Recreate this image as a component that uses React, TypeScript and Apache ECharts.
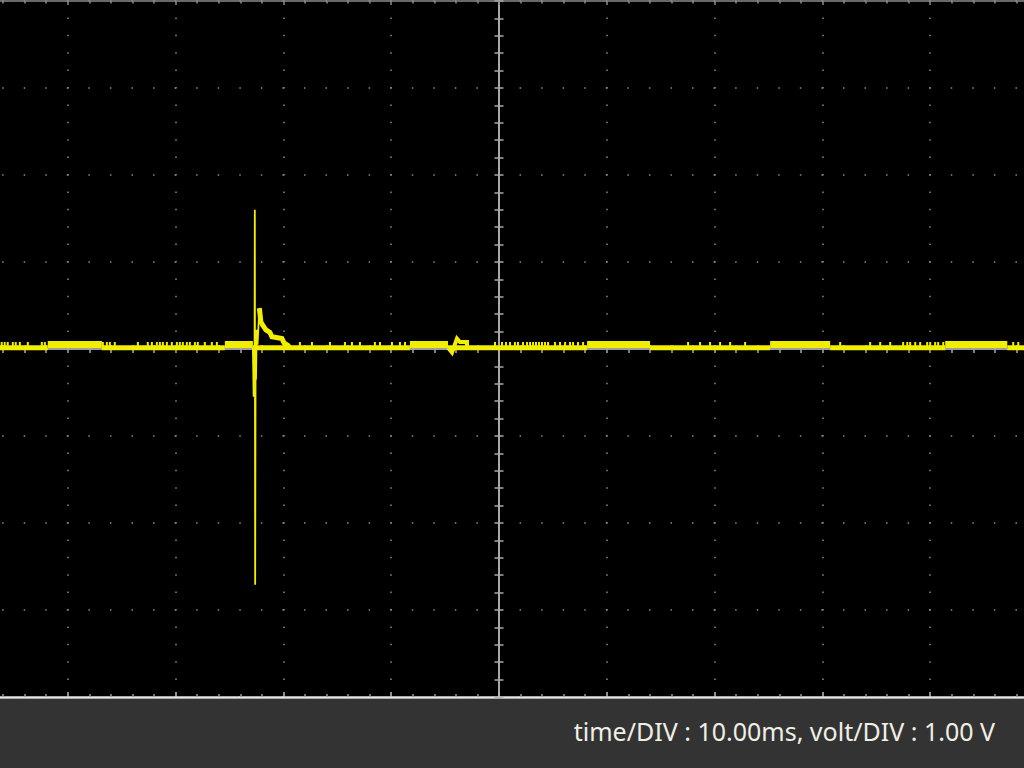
import React, { useEffect, useRef } from "react";
import * as echarts from "echarts";

// Axis extents: 10 divisions of 10 ms, 8 divisions of 1 V
const timeMin = -50;
const timeMax = 50;
const timeStep = 10;
const voltMin = -4;
const voltMax = 4;
const voltStep = 1;

// Trace levels (V)
const restLevel = 0.015;
const bandLevel = 0.052;
const glitchPeak = 0.08;

// Dense-noise bands (ms ranges) where the trace sits slightly raised
const bandStarts = [-41.86, -25.43, -8.26, 8.17, 25.15, 41.39];
const bandEnds = [-36.84, -22.83, -4.73, 14.01, 30.72, 47.15];

// Short upward glitches on the resting trace (ms)
const glitchTimes = [
  -46.13, -45.85, -45.57, -45.1, -44.83, -44.45, -43.71, -42.41, -42.13,
  -36.75, -36.38, -36.1, -35.64, -33.5, -32.58, -32.2, -31.74, -31.46, -31.18,
  -30.81, -30.35, -29.88, -29.61, -29.33, -28.96, -28.68, -28.21, -27.94,
  -27.29, -26.64, -26.17,
  -18.47, -17.35, -15.68, -14.29, -13.64, -12.9, -11.51, -11.04, -9.93, -9.19, -8.72,
  -0.37, 0.28, 0.65, 1.02, 1.48, 1.76, 2.23, 2.6, 2.88, 3.16, 3.43, 3.71, 3.99,
  4.27, 4.55, 5.2, 5.66, 6.13, 6.59, 6.87, 7.33, 7.8,
  17.54, 18.65, 19.58, 20.51, 21.44, 22.83,
  31.65, 34.43, 35.36, 36.29, 37.49, 37.87, 38.14, 38.61, 39.07, 39.72, 40.0,
  40.46, 40.74, 41.21, 47.7, 48.17,
];

// Main transient: sharp spike and ringing
const spikeTimes = [-22.83, -22.76, -22.72, -22.68, -22.65, -22.62, -22.58, -22.54, -22.48, -22.4, -22.23];
const spikeVolts = [0.015, -0.55, -0.1, -0.45, 1.6, -2.71, -0.12, -0.35, 0.22, 0.05, 0.47];

// Main transient: decay back to rest
const decayTimes = [-22.23, -22.09, -21.9, -21.62, -21.25, -21.07, -20.14, -19.95, -19.58, -19.4];
const decayVolts = [0.47, 0.31, 0.27, 0.22, 0.19, 0.14, 0.12, 0.07, 0.04, 0.015];

// Small secondary disturbance
const bumpTimes = [-4.73, -4.36, -3.9, -3.62, -2.97, -2.97];
const bumpVolts = [0.015, -0.04, 0.12, 0.08, 0.08, 0.015];

const footerText = "time/DIV : 10.00ms, volt/DIV : 1.00 V";

const traceColor = "#f2ee00";

// The plot is wider than the window: it starts 40 px left of the page edge
const shiftX = 40;
const plotWidth = 1078;

export default function App() {
  const ref = useRef<HTMLDivElement>(null);

  useEffect(() => {
    if (!ref.current) return;
    const chart = echarts.init(ref.current, undefined, { renderer: "svg" });

    const gap: any = "-";
    const restData: any[] = [];
    let cursor = timeMin;
    bandStarts.forEach((s, i) => {
      restData.push([cursor, restLevel], [s, restLevel], [s, gap]);
      cursor = bandEnds[i];
    });
    restData.push([cursor, restLevel], [timeMax, restLevel]);

    const bandData: any[] = [];
    bandStarts.forEach((s, i) => {
      bandData.push([s, bandLevel], [bandEnds[i], bandLevel], [bandEnds[i], gap]);
    });

    const glitchData: any[] = [];
    glitchTimes.forEach((t) => {
      glitchData.push([t, restLevel], [t, glitchPeak], [t, gap]);
    });

    const spikeData = spikeTimes.map((t, i) => [t, spikeVolts[i]]);
    const decayData = decayTimes.map((t, i) => [t, decayVolts[i]]);
    const bumpData = bumpTimes.map((t, i) => [t, bumpVolts[i]]);

    const hidden = { show: false };
    const baseX = {
      type: "value",
      min: timeMin,
      max: timeMax,
      interval: timeStep,
      axisLabel: hidden,
      splitLine: hidden,
    };
    const baseY = {
      type: "value",
      min: voltMin,
      max: voltMax,
      interval: voltStep,
      axisLabel: hidden,
      splitLine: hidden,
    };

    const lineSeries = (data: any[], width: number, z: number) => ({
      type: "line",
      data,
      xAxisIndex: 0,
      yAxisIndex: 0,
      showSymbol: false,
      symbol: "none",
      connectNulls: false,
      z,
      lineStyle: { color: traceColor, width, cap: "butt", join: "miter" },
      emphasis: { disabled: true },
      silent: true,
    });

    chart.setOption({
      animation: false,
      backgroundColor: "#000000",
      grid: { left: 0, right: 0, top: 1, bottom: 71, containLabel: false, outerBoundsMode: "none" },
      xAxis: [
        {
          ...baseX,
          position: "bottom",
          axisLine: { show: true, onZero: false, lineStyle: { color: "#e4e4e4", width: 2.5 } },
          axisTick: { show: true, inside: true, length: 5, lineStyle: { color: "#bdbdbd", width: 1.5 } },
          minorTick: { show: true, splitNumber: 5, length: 3, lineStyle: { color: "#9a9a9a", width: 1.5 } },
          splitLine: {
            show: true,
            lineStyle: { color: "#8a8a8a", width: 1.5, type: [1.5, 15.9], dashOffset: 0.75 },
          },
        },
        {
          ...baseX,
          position: "top",
          axisLine: { show: true, onZero: false, lineStyle: { color: "#8c8c8c", width: 1.5 } },
          axisTick: { show: true, inside: true, length: 4, lineStyle: { color: "#8c8c8c", width: 1.5 } },
          minorTick: { show: true, splitNumber: 5, length: 2.5, lineStyle: { color: "#8c8c8c", width: 1.5 } },
        },
        {
          ...baseX,
          position: "bottom",
          axisLine: { show: true, onZero: true, onZeroAxisIndex: 0, lineStyle: { color: "#a8a8a8", width: 1.5 } },
          axisTick: { show: true, inside: true, length: 4, lineStyle: { color: "#a8a8a8", width: 1.5 } },
          minorTick: { show: true, splitNumber: 5, length: 4, lineStyle: { color: "#a8a8a8", width: 1.5 } },
        },
        {
          ...baseX,
          position: "top",
          axisLine: { show: true, onZero: true, onZeroAxisIndex: 0, lineStyle: { color: "#a8a8a8", width: 1.5 } },
          axisTick: { show: true, inside: true, length: 4, lineStyle: { color: "#a8a8a8", width: 1.5 } },
          minorTick: { show: true, splitNumber: 5, length: 4, lineStyle: { color: "#a8a8a8", width: 1.5 } },
        },
      ],
      yAxis: [
        {
          ...baseY,
          position: "left",
          axisLine: { show: false, onZero: false },
          axisTick: hidden,
          splitLine: {
            show: true,
            lineStyle: { color: "#8a8a8a", width: 1.5, type: [1.5, 20.06], dashOffset: 0.75 },
          },
        },
        {
          ...baseY,
          position: "left",
          axisLine: { show: true, onZero: true, onZeroAxisIndex: 0, lineStyle: { color: "#a8a8a8", width: 2 } },
          axisTick: { show: true, inside: true, length: 4.5, lineStyle: { color: "#a8a8a8", width: 1.5 } },
          minorTick: { show: true, splitNumber: 5, length: 4.5, lineStyle: { color: "#a8a8a8", width: 1.5 } },
        },
        {
          ...baseY,
          position: "right",
          axisLine: { show: true, onZero: true, onZeroAxisIndex: 0, lineStyle: { color: "#a8a8a8", width: 2 } },
          axisTick: { show: true, inside: true, length: 4.5, lineStyle: { color: "#a8a8a8", width: 1.5 } },
          minorTick: { show: true, splitNumber: 5, length: 4.5, lineStyle: { color: "#a8a8a8", width: 1.5 } },
        },
      ],
      series: [
        lineSeries(restData, 5, 2),
        lineSeries(bandData, 7, 3),
        lineSeries(glitchData, 2, 4),
        lineSeries(bumpData, 4, 5),
        lineSeries(decayData, 5, 6),
        lineSeries(spikeData, 1.8, 7),
      ],
      graphic: [
        {
          type: "rect",
          z: 100,
          shape: { x: shiftX, y: 699, width: 1024, height: 69 },
          style: { fill: "#333333" },
          silent: true,
        },
        {
          type: "text",
          z: 101,
          x: shiftX + 995,
          y: 731,
          style: {
            text: footerText,
            fill: "#efefe6",
            font: "25px 'Noto Sans'",
            align: "right",
            verticalAlign: "middle",
          },
          silent: true,
        },
      ],
    });

    return () => chart.dispose();
  }, []);

  return (
    <div
      style={{ position: "fixed", left: 0, top: 0, width: 1024, height: 768, background: "#000", overflow: "hidden" }}
    >
      <div ref={ref} style={{ position: "absolute", left: -shiftX, top: 0, width: plotWidth, height: 768 }} />
    </div>
  );
}
